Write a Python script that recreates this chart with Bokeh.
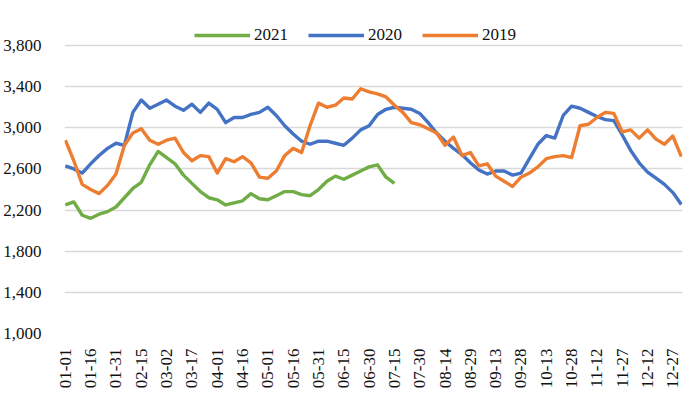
from bokeh.plotting import figure
from bokeh.models import FixedTicker, NumeralTickFormatter, Legend, LegendItem, Range1d
from bokeh.embed import file_html
from bokeh.resources import INLINE
import math

# ---- data (sampled every 5 days from 01-01) ----
tick_labels = ["01-01", "01-16", "01-31", "02-15", "03-02", "03-17", "04-01", "04-16",
               "05-01", "05-16", "05-31", "06-15", "06-30", "07-15", "07-30", "08-14",
               "08-29", "09-13", "09-28", "10-13", "10-28", "11-12", "11-27", "12-12", "12-27"]
tick_step_days = 15
sample_step_days = 5

y2021 = [2250, 2280, 2150, 2120, 2160, 2185, 2230, 2320, 2410, 2470, 2640, 2770, 2710,
         2650, 2540, 2460, 2380, 2320, 2300, 2250, 2270, 2290, 2360, 2310, 2300, 2340,
         2380, 2380, 2350, 2340, 2400, 2480, 2530, 2500, 2540, 2580, 2620, 2640, 2520, 2460]

y2020 = [2630, 2600, 2560, 2650, 2730, 2800, 2850, 2830, 3150, 3270, 3190, 3230, 3270,
         3210, 3170, 3230, 3150, 3240, 3180, 3050, 3100, 3100, 3130, 3150, 3200, 3120,
         3020, 2940, 2870, 2840, 2870, 2870, 2850, 2830, 2900, 2980, 3020, 3130, 3180,
         3200, 3190, 3180, 3140, 3050, 2950, 2870, 2800, 2740, 2660, 2590, 2550, 2580,
         2580, 2540, 2560, 2700, 2840, 2925, 2900, 3120, 3210, 3190, 3150, 3110, 3080,
         3070, 2930, 2780, 2660, 2570, 2510, 2450, 2370, 2255]

y2019 = [2880, 2680, 2450, 2400, 2360, 2440, 2550, 2830, 2950, 2990, 2880, 2840, 2880,
         2900, 2760, 2680, 2730, 2720, 2560, 2700, 2670, 2720, 2660, 2520, 2510, 2580,
         2730, 2800, 2760, 3020, 3240, 3200, 3220, 3290, 3280, 3380, 3350, 3330, 3300,
         3220, 3150, 3050, 3030, 2990, 2950, 2830, 2910, 2730, 2760, 2630, 2650, 2530,
         2480, 2430, 2520, 2560, 2620, 2700, 2720, 2730, 2710, 3020, 3035, 3100, 3150,
         3140, 2960, 2980, 2900, 2980, 2890, 2840, 2920, 2720]

y_ticks = [1000, 1400, 1800, 2200, 2600, 3000, 3400, 3800]

series = [("2021", y2021, "#70AD47"), ("2020", y2020, "#4472C4"), ("2019", y2019, "#ED7D31")]

FONT = "Liberation Serif"
TXT = "#111111"

p = figure(width=684, height=398, output_backend="svg", toolbar_location=None,
           x_range=Range1d(-0.5, 365.7), y_range=Range1d(1000, 4024),
           min_border_left=54, min_border_right=2, min_border_top=22, min_border_bottom=65)
p.outline_line_color = None
p.background_fill_color = "white"

items = []
for name, ys, col in series:
    xs = [i * sample_step_days for i in range(len(ys))]
    r = p.line(xs, ys, line_color=col, line_width=3.4, line_join="round")
    items.append(LegendItem(label=name, renderers=[r]))

legend = Legend(items=items, orientation="horizontal", location=(130, 288),
                glyph_width=56, glyph_height=20, label_standoff=4, spacing=20,
                padding=0, margin=0, border_line_color=None, background_fill_alpha=0,
                label_text_font=FONT, label_text_font_size="17px", label_text_color=TXT)
p.add_layout(legend)

p.xaxis.ticker = FixedTicker(ticks=[i * tick_step_days for i in range(len(tick_labels))])
p.xaxis.major_label_overrides = {i * tick_step_days: lab for i, lab in enumerate(tick_labels)}
p.xaxis.major_label_orientation = math.pi / 2
p.yaxis.ticker = FixedTicker(ticks=y_ticks)
p.yaxis.formatter = NumeralTickFormatter(format="0,0")

for ax in (p.xaxis, p.yaxis):
    ax.axis_line_color = None
    ax.major_tick_line_color = None
    ax.minor_tick_line_color = None
    ax.major_label_text_font = FONT
    ax.major_label_text_font_size = "17px"
    ax.major_label_text_color = TXT
p.xaxis.major_label_standoff = 9
p.yaxis.major_label_standoff = 17

p.xgrid.grid_line_color = None
p.ygrid.grid_line_color = "#D9D9D9"
p.ygrid.grid_line_width = 1.5

open("out.html", "w").write(file_html(p, INLINE))
